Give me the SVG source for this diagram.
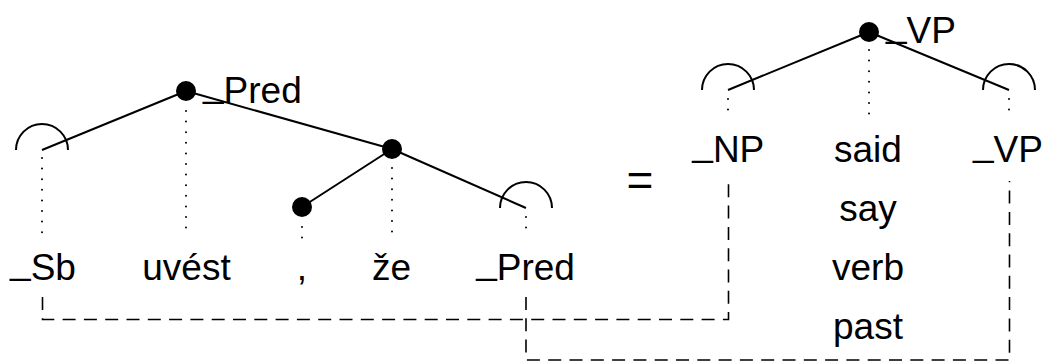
<svg xmlns="http://www.w3.org/2000/svg" width="1043" height="362" viewBox="0 0 1043 362">
<style>
text { font-family: "Liberation Sans", Arial, sans-serif; font-size: 37px; fill: #000; }
.c { text-anchor: middle; }
.edge { stroke: #000; stroke-width: 2; fill: none; }
.arc { stroke: #000; stroke-width: 2; fill: none; }
.dot { stroke: #000; stroke-width: 2; stroke-dasharray: 0 10.6; stroke-linecap: round; fill: none; }
.dash { stroke: #000; stroke-width: 1.6; stroke-dasharray: 13 8.3; fill: none; }
.node { fill: #000; }
</style>
<rect width="1043" height="362" fill="#fff"/>
<g id="connectors">
  <line class="edge" x1="186" y1="91" x2="42" y2="150"/>
  <line class="edge" x1="186" y1="91" x2="392" y2="149"/>
  <line class="edge" x1="392" y1="149" x2="302" y2="207"/>
  <line class="edge" x1="392" y1="149" x2="526" y2="208"/>
  <line class="edge" x1="869" y1="32" x2="728" y2="90"/>
  <line class="edge" x1="869" y1="32" x2="1009" y2="90"/>
  <line class="dot" x1="42" y1="158" x2="42" y2="238"/>
  <line class="dot" x1="186" y1="111" x2="186" y2="238"/>
  <line class="dot" x1="302" y1="227" x2="302" y2="238"/>
  <line class="dot" x1="392" y1="168" x2="392" y2="238"/>
  <line class="dot" x1="526" y1="217" x2="526" y2="238"/>
  <line class="dot" x1="728" y1="99" x2="728" y2="120"/>
  <line class="dot" x1="869" y1="50" x2="869" y2="120"/>
  <line class="dot" x1="1009" y1="99" x2="1009" y2="120"/>
  <path class="dash" d="M42.5 297 V319.5 H728.5 V181"/>
  <path class="dash" d="M526 297 V360 H1009.5 V181"/>
</g>
<g id="node-pred-root">
  <circle class="node" cx="186" cy="91" r="10"/>
  <text x="203" y="103"><tspan dy="-6">_</tspan><tspan dy="6">Pred</tspan></text>
</g>
<g id="node-sb">
  <path class="arc" d="M16 150 A26 26 0 0 1 68 150"/>
  <text class="c" x="43" y="280"><tspan dy="-6">_</tspan><tspan dy="6">Sb</tspan></text>
</g>
<g id="node-uvest">
  <text class="c" x="186.5" y="280">uvést</text>
</g>
<g id="node-ze">
  <circle class="node" cx="392" cy="149" r="10"/>
  <text class="c" x="391.5" y="280">že</text>
</g>
<g id="node-comma">
  <circle class="node" cx="302" cy="207" r="10"/>
  <text class="c" x="302" y="280">,</text>
</g>
<g id="node-pred">
  <path class="arc" d="M500 208 A26 26 0 0 1 552 208"/>
  <text class="c" x="525.5" y="280"><tspan dy="-6">_</tspan><tspan dy="6">Pred</tspan></text>
</g>
<g id="equals">
  <text class="c" x="640" y="196" style="font-size:46px">=</text>
</g>
<g id="node-vp-root">
  <circle class="node" cx="869" cy="32" r="10"/>
  <text x="886" y="43"><tspan dy="-6">_</tspan><tspan dy="6">VP</tspan></text>
</g>
<g id="node-np">
  <path class="arc" d="M702 90 A26 26 0 0 1 754 90"/>
  <text class="c" x="728.3" y="162"><tspan dy="-6">_</tspan><tspan dy="6">NP</tspan></text>
</g>
<g id="node-said">
  <text class="c" x="868" y="162">said</text>
  <text class="c" x="868" y="221">say</text>
  <text class="c" x="868" y="280">verb</text>
  <text class="c" x="868" y="339">past</text>
</g>
<g id="node-vp">
  <path class="arc" d="M983 90 A26 26 0 0 1 1035 90"/>
  <text class="c" x="1008" y="162"><tspan dy="-6">_</tspan><tspan dy="6">VP</tspan></text>
</g>
</svg>
